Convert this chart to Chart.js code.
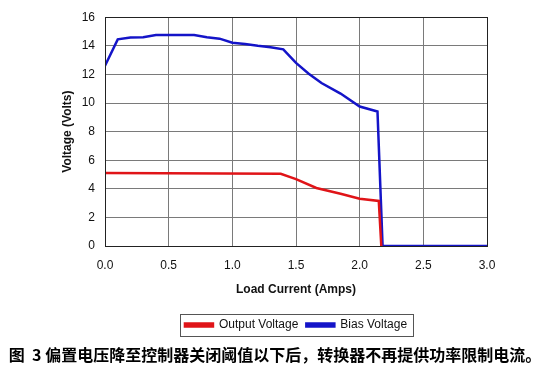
<!DOCTYPE html>
<html>
<head>
<meta charset="utf-8">
<script src="https://cdn.jsdelivr.net/npm/chart.js@4/dist/chart.umd.min.js"></script>
<style>
  html, body { margin: 0; padding: 0; background: #fff; }
  #wrap { width: 550px; height: 367px; }
</style>
</head>
<body>
<div id="wrap"><canvas id="chart" width="550" height="367"></canvas></div>
<script>
// Data
const outputX = [0, 1.38, 1.5, 1.66, 1.85, 2.0, 2.15, 2.17];
const outputY = [5.1, 5.05, 4.68, 4.06, 3.65, 3.31, 3.15, 0];

const biasX = [0, 0.1, 0.2, 0.3, 0.4, 0.7, 0.8, 0.9, 1.0, 1.1, 1.2, 1.3, 1.4, 1.5, 1.6, 1.7, 1.85, 2.0, 2.14, 2.18, 3.0];
const biasY = [12.6, 14.45, 14.58, 14.6, 14.75, 14.75, 14.6, 14.5, 14.22, 14.12, 14.0, 13.9, 13.75, 12.8, 12.05, 11.4, 10.66, 9.75, 9.4, 0, 0];

const xTicks = [0, 0.5, 1.0, 1.5, 2.0, 2.5, 3.0];
const yTicks = [0, 2, 4, 6, 8, 10, 12, 14, 16];

const seriesNames = ['Output Voltage', 'Bias Voltage'];
const caption = '图  3 偏置电压降至控制器关闭阈值以下后，转换器不再提供功率限制电流。';

const toPoints = (xs, ys) => xs.map((x, i) => ({ x: x, y: ys[i] }));

// Frame around the plot area and around the legend
const framePlugin = {
  id: 'frame',
  afterDraw(chart) {
    const ctx = chart.ctx;
    const a = chart.chartArea;
    ctx.save();
    ctx.strokeStyle = '#222';
    ctx.lineWidth = 1;
    ctx.strokeRect(Math.round(a.left) + 0.5, Math.round(a.top) + 0.5,
      Math.round(a.right - a.left), Math.round(a.bottom - a.top));

    const boxes = chart.legend.legendHitBoxes;
    if (boxes && boxes.length) {
      const first = boxes[0];
      const last = boxes[boxes.length - 1];
      const cy = first.top + first.height / 2;
      const l = Math.round(first.left - 5) + 0.5;
      const r = Math.round(last.left + last.width + 6) + 0.5;
      ctx.strokeStyle = '#555';
      ctx.strokeRect(l, Math.round(cy - 11.5) + 0.5, r - l, 22);
    }
    ctx.restore();
  }
};

const ctx = document.getElementById('chart').getContext('2d');
new Chart(ctx, {
  type: 'line',
  data: {
    datasets: [{
      label: seriesNames[0],
      data: toPoints(outputX, outputY),
      borderColor: '#e01418',
      backgroundColor: '#e01418',
      borderWidth: 2.5,
      pointRadius: 0,
      tension: 0
    }, {
      label: seriesNames[1],
      data: toPoints(biasX, biasY),
      borderColor: '#1414c8',
      backgroundColor: '#1414c8',
      borderWidth: 2.5,
      pointRadius: 0,
      tension: 0
    }]
  },
  options: {
    responsive: false,
    animation: false,
    layout: { padding: { top: 13, right: 0, left: 0, bottom: 0 } },
    plugins: {
      tooltip: { enabled: false },
      legend: {
        position: 'bottom',
        fullSize: false,
        labels: {
          boxWidth: 28,
          boxHeight: 3,
          padding: 8,
          color: '#111',
          font: { family: '"Liberation Sans", Arial, sans-serif', size: 12 }
        }
      },
      title: {
        display: true,
        position: 'bottom',
        text: caption,
        color: '#000',
        padding: { top: 4, bottom: 2 },
        font: { family: '"Noto Sans CJK SC", sans-serif', size: 16, weight: 'bold', lineHeight: 1.25 }
      }
    },
    scales: {
      x: {
        type: 'linear',
        min: 0,
        max: 3,
        afterBuildTicks: (scale) => { scale.ticks = xTicks.map(v => ({ value: v })); },
        afterFit: (scale) => { scale.height = 65; },
        grid: { color: '#7a7a7a', drawTicks: false },
        border: { color: '#222' },
        ticks: {
          padding: 12,
          color: '#111',
          font: { family: '"Liberation Sans", Arial, sans-serif', size: 12 },
          callback: (v) => Number(v).toFixed(1)
        },
        title: {
          display: true,
          text: 'Load Current (Amps)',
          color: '#111',
          padding: { top: 4, bottom: 14 },
          font: { family: '"Liberation Sans", Arial, sans-serif', size: 12, weight: 'bold' }
        }
      },
      y: {
        min: 0,
        max: 16,
        afterBuildTicks: (scale) => { scale.ticks = yTicks.map(v => ({ value: v })); },
        afterFit: (scale) => { scale.width = 105; },
        grid: { color: '#7a7a7a', drawTicks: false },
        border: { color: '#222' },
        ticks: {
          padding: 10,
          color: '#111',
          font: { family: '"Liberation Sans", Arial, sans-serif', size: 12 }
        },
        title: {
          display: true,
          text: 'Voltage (Volts)',
          color: '#111',
          padding: { top: 60, bottom: 0 },
          font: { family: '"Liberation Sans", Arial, sans-serif', size: 12, weight: 'bold' }
        }
      },
      // empty right-hand axis that only reserves the right margin
      yRight: {
        position: 'right',
        min: 0,
        max: 16,
        afterFit: (scale) => { scale.width = 63; },
        grid: { display: false },
        border: { display: false },
        ticks: { display: false }
      }
    }
  },
  plugins: [framePlugin]
});
</script>
</body>
</html>
